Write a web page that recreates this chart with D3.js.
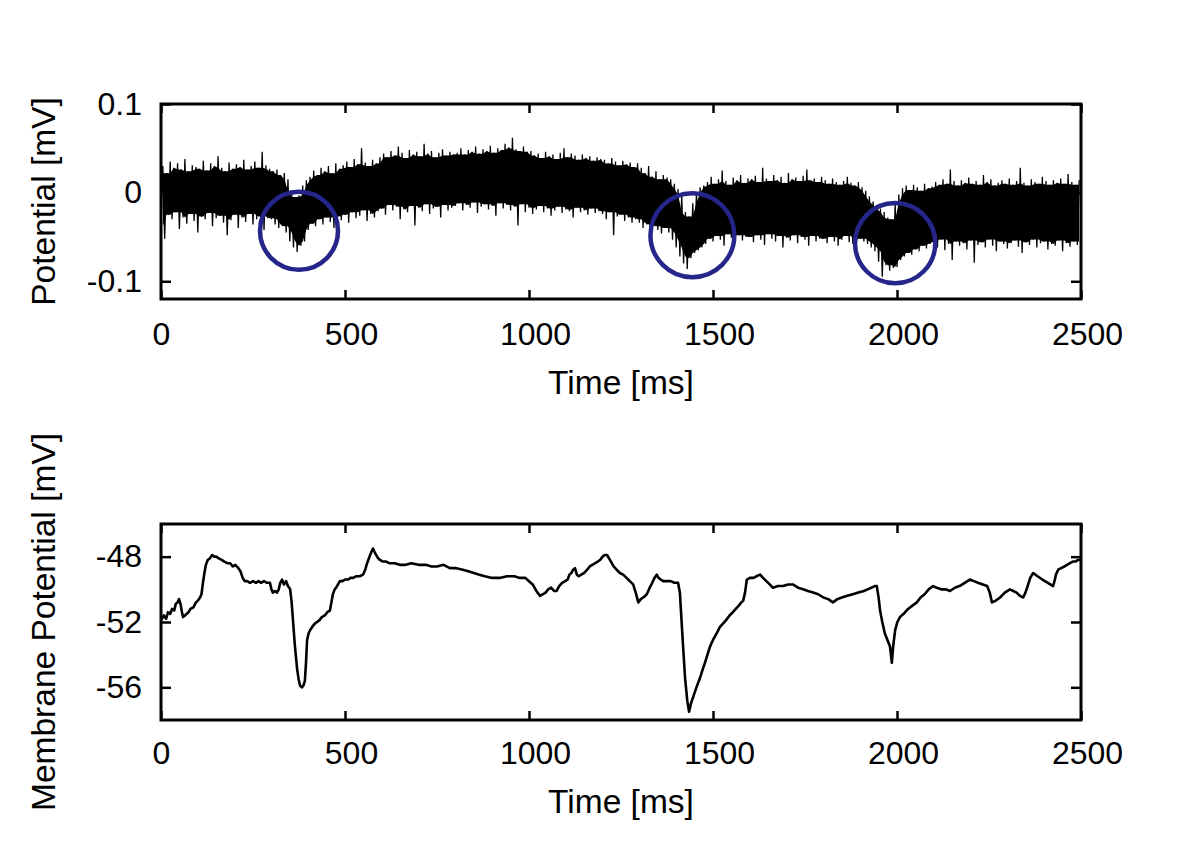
<!DOCTYPE html>
<html><head><meta charset="utf-8">
<script src="https://cdn.jsdelivr.net/npm/d3@7"></script>
<style>
html,body{margin:0;padding:0;background:#fff;}
svg{display:block;}
text{font-family:"Liberation Sans",Arial,Helvetica,sans-serif;fill:#000;}
</style></head>
<body>
<svg id="chart" width="1200" height="842"></svg>
<script>
// ---------- DATA ----------
// Top panel: extracellular potential trace, read as min/max envelope per 10 ms bin (microvolts)
const binMs = 10;
const topHi = [
 30,22,35,28,33,26,38,24,31,29,27,36,25,33,30,41,28,24,34,27,32,29,37,26,30,35,28,46,31,27,
 24,26,20,22,15,2,-5,-3,8,14,
 18,25,20,28,24,30,22,33,27,31,35,29,38,32,50,34,30,37,33,40,
 44,40,47,42,52,45,39,48,43,46,41,55,44,47,40,45,49,42,46,43,
 45,50,43,48,46,52,44,49,47,53,45,50,48,55,51,62,49,47,52,46,
 47,42,44,39,46,41,43,38,45,50,40,44,42,37,43,39,41,36,40,38,
 37,33,39,35,31,36,32,34,29,33,
 28,22,30,18,24,15,20,17,
 15,10,4,-2,-22,-27,-12,0,6,8,
 12,18,10,15,25,13,9,17,14,20,11,16,
 15,19,12,28,16,13,20,14,18,11,22,15,17,13,19,26,14,16,12,18,
 14,10,16,12,9,13,18,11,8,12,
 6,2,-4,-10,-14,-18,-22,-28,-30,-12,
 -2,5,8,3,9,6,2,10,5,7,
 12,9,15,10,26,13,8,14,11,17,10,13,9,20,12,15,8,11,14,10,16,9,13,28,11,8,15,12,10,18,13,9,14,11,16,10,21,12,9,14
];
const topLo = [
 -38,-52,-25,-30,-22,-41,-28,-35,-24,-32,-45,-27,-30,-23,-38,-29,-26,-34,-48,-31,-25,-40,-28,-33,-24,-36,-30,-27,-42,-29,
 -30,-36,-40,-38,-45,-55,-62,-67,-60,-55,
 -42,-35,-38,-30,-36,-28,-33,-40,-27,-31,-25,-34,-22,-29,-26,-20,-32,-24,-28,-21,
 -18,-25,-14,-20,-16,-30,-19,-22,-15,-37,-17,-21,-13,-24,-18,-16,-28,-14,-20,-17,
 -15,-12,-20,-14,-17,-11,-23,-16,-13,-19,-15,-26,-12,-18,-14,-20,-16,-37,-13,-22,
 -17,-24,-19,-15,-22,-18,-26,-20,-16,-23,-19,-21,-28,-17,-22,-20,-25,-18,-23,-21,
 -24,-30,-22,-48,-27,-25,-32,-28,-34,-30,
 -34,-40,-36,-44,-38,-42,-46,-40,
 -45,-53,-62,-72,-80,-86,-74,-68,-65,-62,
 -58,-52,-55,-49,-53,-60,-47,-51,-56,-48,-54,-50,
 -50,-56,-48,-53,-59,-47,-52,-55,-49,-62,-51,-54,-48,-57,-50,-53,-60,-49,-55,-52,
 -52,-57,-50,-55,-60,-53,-49,-56,-58,-54,
 -52,-55,-58,-62,-66,-78,-95,-82,-88,-85,
 -84,-76,-72,-68,-70,-64,-66,-60,-63,-58,
 -56,-62,-53,-65,-58,-76,-55,-60,-57,-64,-54,-79,-59,-56,-62,-53,-60,-66,-55,-58,-63,-57,-54,-61,-68,-56,-59,-53,-62,-57,-55,-64,-58,-60,-54,-66,-57,-61,-55,-59
];

// Circles marking the dips (time ms, potential mV, radius in ms)
const circT = [375, 1444, 1995];
const circV = [-0.043, -0.048, -0.057];
const circR = [106, 114, 109];

// Bottom panel: membrane potential, [time ms, mV]
const botTrace = [
[0,-51.9],[8,-51.6],[14,-51.8],[19,-51.4],[25,-51.5],[30,-51.2],[36,-51.3],[40,-50.9],[45,-50.8],[49,-50.6],
[53,-50.9],[57,-51.4],[60,-51.7],[65,-51.6],[70,-51.5],[75,-51.4],[80,-51.2],[88,-51.1],[95,-50.8],[100,-50.7],
[106,-50.5],[110,-50.3],[114,-49.6],[118,-49.0],[122,-48.5],[127,-48.2],[133,-48.1],[139,-47.9],[145,-48.0],[150,-48.0],
[157,-48.1],[165,-48.2],[172,-48.3],[180,-48.4],[188,-48.4],[195,-48.6],[202,-48.5],[210,-48.7],[216,-48.9],[222,-49.3],
[228,-49.5],[234,-49.5],[242,-49.6],[250,-49.5],[258,-49.6],[265,-49.5],[272,-49.6],[280,-49.5],[288,-49.6],[296,-49.6],
[300,-50.0],[304,-50.2],[310,-50.1],[315,-50.2],[320,-50.0],[324,-49.6],[329,-49.4],[334,-49.7],[340,-49.5],[345,-49.8],
[351,-50.0],[355,-50.8],[359,-52.0],[364,-53.5],[370,-54.9],[374,-55.5],[378,-55.9],[383,-56.0],[387,-55.9],[391,-55.6],
[394,-54.5],[397,-53.1],[401,-52.7],[405,-52.5],[411,-52.3],[418,-52.1],[424,-52.0],[430,-51.9],[437,-51.7],[445,-51.6],
[452,-51.4],[459,-51.3],[463,-50.8],[467,-50.3],[472,-50.0],[476,-49.9],[481,-49.7],[486,-49.5],[493,-49.5],[500,-49.4],
[508,-49.4],[515,-49.3],[522,-49.3],[530,-49.2],[540,-49.2],[549,-49.1],[555,-48.8],[560,-48.4],[565,-48.1],[570,-47.8],
[576,-47.5],[580,-47.7],[585,-47.9],[590,-48.1],[595,-48.2],[603,-48.3],[612,-48.3],[620,-48.4],[635,-48.4],[649,-48.5],
[665,-48.5],[680,-48.4],[700,-48.5],[720,-48.5],[735,-48.6],[750,-48.6],[768,-48.5],[785,-48.7],[800,-48.7],[820,-48.8],
[835,-48.9],[850,-49.0],[865,-49.1],[880,-49.2],[900,-49.3],[920,-49.3],[940,-49.2],[960,-49.2],[975,-49.3],[990,-49.3],
[1000,-49.5],[1010,-49.7],[1020,-50.1],[1030,-50.4],[1038,-50.3],[1045,-50.2],[1052,-50.0],[1060,-49.9],[1068,-50.1],[1075,-50.1],
[1082,-49.8],[1090,-49.6],[1098,-49.5],[1105,-49.4],[1110,-49.1],[1115,-49.0],[1120,-48.8],[1125,-48.7],[1130,-49.1],[1135,-49.2],
[1142,-49.1],[1150,-49.0],[1158,-48.8],[1165,-48.6],[1172,-48.5],[1180,-48.4],[1187,-48.3],[1193,-48.2],[1200,-48.0],[1206,-47.9],
[1212,-47.9],[1220,-48.2],[1230,-48.6],[1238,-48.8],[1247,-49.0],[1256,-49.1],[1265,-49.3],[1274,-49.5],[1283,-49.7],[1290,-50.2],
[1297,-50.8],[1304,-50.6],[1310,-50.5],[1316,-50.4],[1320,-50.3],[1328,-49.9],[1335,-49.6],[1341,-49.3],[1347,-49.1],[1352,-49.3],
[1358,-49.4],[1365,-49.5],[1375,-49.5],[1385,-49.5],[1395,-49.6],[1405,-49.6],[1410,-50.2],[1416,-52.5],[1424,-55.4],[1430,-56.8],
[1435,-57.5],[1440,-57.0],[1446,-56.6],[1455,-56.0],[1465,-55.4],[1472,-54.9],[1478,-54.5],[1485,-54.0],[1492,-53.5],[1500,-53.1],
[1505,-52.9],[1512,-52.6],[1519,-52.3],[1527,-52.1],[1535,-51.9],[1545,-51.6],[1554,-51.4],[1562,-51.2],[1570,-51.0],[1577,-50.8],
[1582,-50.7],[1587,-50.2],[1592,-49.4],[1600,-49.3],[1610,-49.3],[1618,-49.2],[1628,-49.1],[1636,-49.3],[1645,-49.5],[1654,-49.7],
[1663,-49.9],[1676,-49.8],[1690,-49.8],[1704,-49.7],[1717,-49.7],[1731,-49.9],[1745,-50.0],[1758,-50.1],[1772,-50.2],[1786,-50.3],
[1800,-50.5],[1813,-50.6],[1826,-50.8],[1838,-50.6],[1850,-50.5],[1865,-50.4],[1880,-50.3],[1895,-50.2],[1910,-50.1],[1920,-50.0],
[1930,-49.9],[1940,-49.8],[1945,-49.8],[1950,-50.5],[1954,-51.3],[1960,-52.0],[1967,-52.7],[1974,-53.1],[1981,-53.5],[1986,-54.5],
[1990,-53.4],[1995,-52.5],[2001,-52.0],[2008,-51.7],[2018,-51.5],[2030,-51.2],[2042,-51.0],[2054,-50.8],[2064,-50.5],[2075,-50.3],
[2086,-50.0],[2098,-49.8],[2108,-49.9],[2120,-50.0],[2132,-50.0],[2144,-50.1],[2157,-49.9],[2170,-49.8],[2184,-49.6],[2198,-49.4],
[2209,-49.5],[2220,-49.6],[2233,-49.7],[2245,-49.8],[2252,-50.2],[2258,-50.8],[2268,-50.7],[2280,-50.5],[2293,-50.2],[2307,-50.0],
[2316,-50.1],[2325,-50.2],[2334,-50.4],[2343,-50.5],[2349,-50.2],[2355,-49.8],[2362,-49.3],[2370,-49.0],[2382,-49.2],[2395,-49.4],
[2410,-49.6],[2424,-49.8],[2428,-49.5],[2432,-49.1],[2438,-48.8],[2446,-48.7],[2455,-48.6],[2462,-48.5],[2470,-48.4],[2478,-48.3],
[2485,-48.3],[2492,-48.2],[2500,-48.2]
];

// Axis ticks and labels
const xTicks = [0,500,1000,1500,2000,2500];
const topYTicks = [-0.1,0,0.1];
const topYTickLabels = ["-0.1","0","0.1"];
const botYTicks = [-56,-52,-48];
const botYTickLabels = ["-56","-52","-48"];
const xLabel = "Time [ms]";
const topYLabel = "Potential [mV]";
const botYLabel = "Membrane Potential [mV]";

// ---------- DRAW ----------
const svg = d3.select("#chart");
const L = 161, R = 1081;
const x = d3.scaleLinear().domain([0,2500]).range([L,R]);
const panels = [
  {top:104, bottom:299, domain:[-0.12,0.1], yticks:topYTicks, ylabels:topYTickLabels, ylabel:topYLabel, pad:23, titleY:394},
  {top:524, bottom:720, domain:[-58,-46], yticks:botYTicks, ylabels:botYTickLabels, ylabel:botYLabel, pad:21, titleY:813}
];
const FS = 32, TFS = 33.5;
const FONT = '"Liberation Sans",Arial,sans-serif';

panels.forEach((p,pi)=>{
  p.y = d3.scaleLinear().domain(p.domain).range([p.bottom,p.top]);
  const g = svg.append("g");
  const clipId = "clip"+pi;
  svg.append("clipPath").attr("id",clipId).append("rect")
    .attr("x",L).attr("y",p.top).attr("width",R-L).attr("height",p.bottom-p.top);

  const plot = g.append("g").attr("clip-path",`url(#${clipId})`);
  if(pi===0){
    // dense trace: the band between neighbouring excursions is filled, isolated excursions stick out as needles
    const n = topHi.length;
    const band = topHi.map((h,i)=>{
      const a = Math.max(0,i-1), b = Math.min(n-1,i+1);
      return [i*binMs+binMs/2,
        Math.max(topLo[a],topLo[i],topLo[b])/1000,
        Math.min(topHi[a],topHi[i],topHi[b])/1000];
    });
    plot.append("path").datum(band)
      .attr("d", d3.area().x(d=>x(d[0])).y0(d=>p.y(d[1])).y1(d=>p.y(d[2])))
      .attr("fill","#000");
    const pts = [];
    topHi.forEach((h,i)=>{ pts.push([i*binMs, topLo[i]/1000]); pts.push([i*binMs+binMs/2, h/1000]); });
    plot.append("path").datum(pts)
      .attr("d", d3.line().x(d=>x(d[0])).y(d=>p.y(d[1])))
      .attr("fill","none").attr("stroke","#000").attr("stroke-width",1.3).attr("stroke-linejoin","miter").attr("stroke-miterlimit",2);
  } else {
    plot.append("path").datum(botTrace)
      .attr("d", d3.line().x(d=>x(d[0])).y(d=>p.y(d[1])))
      .attr("fill","none").attr("stroke","#000").attr("stroke-width",2.6).attr("stroke-linejoin","round");
  }

  const styleAxis = sel => {
    sel.select(".domain").remove();
    sel.selectAll(".tick line").attr("stroke","#000").attr("stroke-width",2.5);
    sel.selectAll("text").style("font-size",FS+"px").style("font-family",FONT).attr("fill","#000");
  };
  g.append("g").attr("transform",`translate(0,${p.bottom})`)
    .call(d3.axisBottom(x).tickValues(xTicks).tickSize(-9).tickPadding(p.pad).tickFormat(d=>String(d)))
    .call(styleAxis)
    .call(sel=>sel.selectAll(".tick text").attr("dx",d=>String(d).length>1?6:0));
  g.append("g").attr("transform",`translate(0,${p.top})`)
    .call(d3.axisTop(x).tickValues(xTicks).tickSize(-9).tickFormat(""))
    .call(styleAxis);
  g.append("g").attr("transform",`translate(${L},0)`)
    .call(d3.axisLeft(p.y).tickValues(p.yticks).tickSize(-10).tickPadding(19).tickFormat((d,i)=>p.ylabels[i]))
    .call(styleAxis);
  g.append("g").attr("transform",`translate(${R},0)`)
    .call(d3.axisRight(p.y).tickValues(p.yticks).tickSize(-10).tickFormat(""))
    .call(styleAxis);

  g.append("rect").attr("x",L).attr("y",p.top).attr("width",R-L).attr("height",p.bottom-p.top)
    .attr("fill","none").attr("stroke","#000").attr("stroke-width",3);

  g.append("text").attr("x",(L+R)/2).attr("y",p.titleY).attr("text-anchor","middle")
    .style("font-size",TFS+"px").text(xLabel);
  g.append("text").attr("transform",`translate(55,${(p.top+p.bottom)/2}) rotate(-90)`)
    .attr("text-anchor","middle").style("font-size",TFS+"px").text(p.ylabel);

  if(pi===0){
    g.selectAll("circle.mark").data(circT).enter().append("circle").attr("class","mark")
      .attr("cx",d=>x(d)).attr("cy",(d,i)=>p.y(circV[i]))
      .attr("r",(d,i)=>x(circR[i])-x(0))
      .attr("fill","none").attr("stroke","#25258a").attr("stroke-width",4.5);
  }
});
</script>
</body></html>
